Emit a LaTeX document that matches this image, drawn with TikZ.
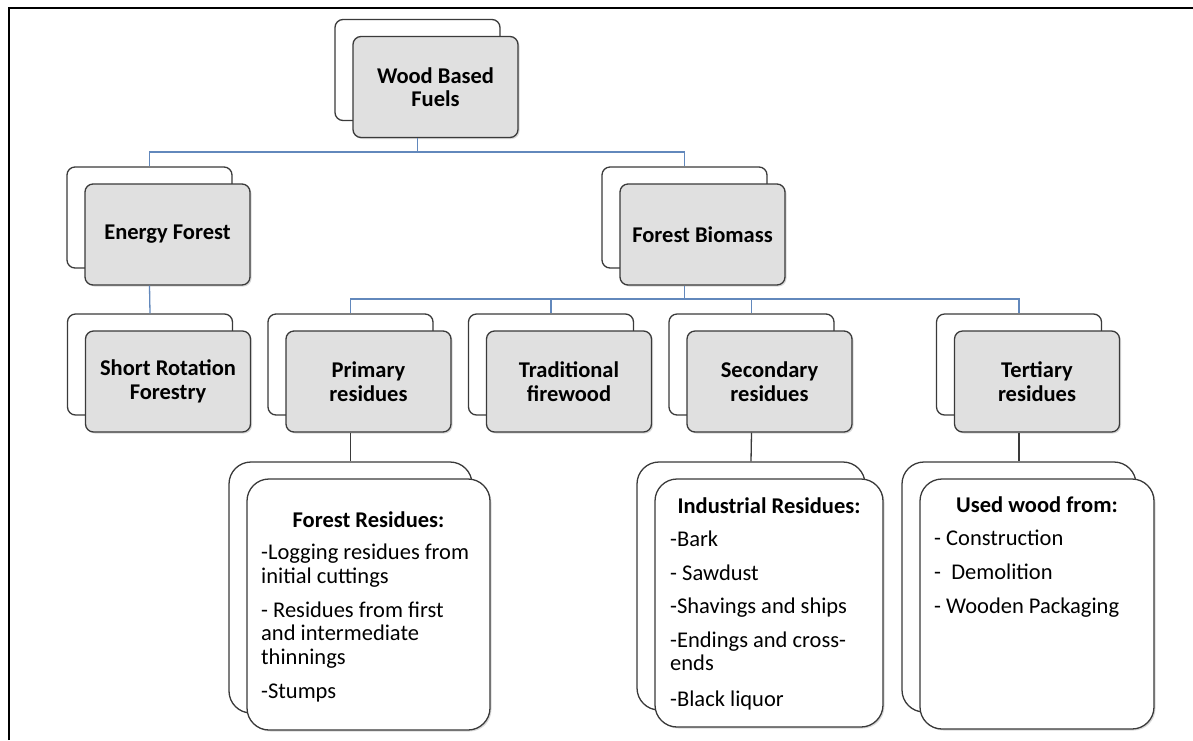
\documentclass[tikz,border=0pt]{standalone}
\usepackage{fontspec}
\setmainfont{Carlito}
\usetikzlibrary{positioning,shadows,calc}
\definecolor{linkblue}{RGB}{98,136,188}
\definecolor{cardgray}{RGB}{224,224,224}
\definecolor{cardedge}{RGB}{58,58,58}
\tikzset{
  backcard/.style={draw=cardedge,line width=1.3pt,fill=white,rounded corners=8pt,
    minimum width=165pt,minimum height=101pt,inner sep=0pt},
  frontcard/.style={backcard,fill=cardgray,align=center,
    font=\fontsize{22.5}{23.5}\selectfont\bfseries,
    drop shadow={shadow xshift=1.5pt,shadow yshift=-1.5pt,opacity=.3}},
  backlist/.style={draw=cardedge,line width=1.3pt,fill=white,rounded corners=22pt,inner sep=0pt},
  frontlist/.style={backlist,drop shadow={shadow xshift=1.5pt,shadow yshift=-1.5pt,opacity=.3}},
  listhead/.style={font=\fontsize{22.5}{23.5}\selectfont\bfseries,anchor=base,inner sep=0pt},
  listitems/.style={font=\fontsize{22.5}{23.5}\selectfont,align=left,anchor=north west,inner sep=0pt},
  link/.style={draw=linkblue,line width=1.3pt},
  sublink/.style={draw=cardedge,line width=1.3pt}
}

\begin{document}
\begin{tikzpicture}[x=1pt,y=-1pt]
  \useasboundingbox (0,0) rectangle (1193,740);
  \draw[line width=2.2pt] (9,740) -- (9,8) -- (1193,8);

  % top of the tree
  \node[backcard] (bwbf) at (417.5,70) {};
  \node[frontcard] (wbf) at ([shift={(18,17)}]bwbf.center) {Wood Based\\Fuels};
  \node[backcard] (bef) at (149.5,217.5) {};
  \node[frontcard] (ef) at ([shift={(18,17)}]bef.center) {Energy Forest};
  \node[backcard] (bfb) at (684.5,217.5) {};
  \node[frontcard] (fb) at ([shift={(18,17)}]bfb.center) {Forest Biomass};

  % third row
  \foreach \n/\x/\t in {srf/150/Short Rotation\\Forestry, pr/350.5/Primary\\residues,
      tr/551/Traditional\\firewood, se/751.5/Secondary\\residues, te/1019/Tertiary\\residues}
  {
    \node[backcard] (b\n) at (\x,364.5) {};
    \node[frontcard] (\n) at ([shift={(18,17)}]b\n.center) {\t};
  }

  % residue lists
  \node[backlist,minimum width=243pt,minimum height=251pt] (bfr) at (350.5,587.5) {};
  \node[frontlist,minimum width=243pt,minimum height=251pt] (fr) at ([shift={(18,17)}]bfr.center) {};
  \node[backlist,minimum width=228pt,minimum height=248pt] (bir) at (751,586) {};
  \node[frontlist,minimum width=228pt,minimum height=248pt] (ir) at ([shift={(18,17)}]bir.center) {};
  \node[backlist,minimum width=234pt,minimum height=250pt] (buw) at (1019,587) {};
  \node[frontlist,minimum width=234pt,minimum height=250pt] (uw) at ([shift={(18,17)}]buw.center) {};

  \node[listhead] (frhead) at (fr.center |- 0,527) {Forest Residues:};
  \node[listitems] (fritems) at (261,544) {-Logging residues from\\initial cuttings\\[10.5pt]
    - Residues from first\\and intermediate\\thinnings\\[10.5pt]-Stumps};
  \node[listhead] (irhead) at (ir.center |- 0,513) {Industrial Residues:};
  \node[listitems] (iritems) at (670,531) {-Bark\\[10pt]- Sawdust\\[10pt]-Shavings and ships\\[10pt]
    -Endings and cross-\\ends\\[12pt]-Black liquor};
  \node[listhead] (uwhead) at (uw.center |- 0,512) {Used wood from:};
  \node[listitems] (uwitems) at (934,530) {- Construction\\[10.5pt]-\ \ Demolition\\[10.5pt]- Wooden Packaging};

  % connectors
  \coordinate (bartop) at (0,152);
  \coordinate (barmid) at (0,299);
  \draw[link] (bwbf.south |- wbf.south) -- (bwbf.south |- bartop) -| (bef.north);
  \draw[link] (bwbf.south |- bartop) -| (bfb.north);
  \draw[link] (bef.south |- ef.south) -- (bsrf.north);
  \draw[link] (bfb.south |- fb.south) -- (bfb.south |- barmid);
  \foreach \n in {pr,tr,se,te}
    \draw[link] (bfb.south |- barmid) -| (b\n.north);
  \draw[sublink] (bpr.south |- pr.south) -- (bfr.north);
  \draw[sublink] (bse.south |- se.south) -- (bir.north);
  \draw[sublink] (bte.south |- te.south) -- (buw.north);
\end{tikzpicture}
\end{document}
